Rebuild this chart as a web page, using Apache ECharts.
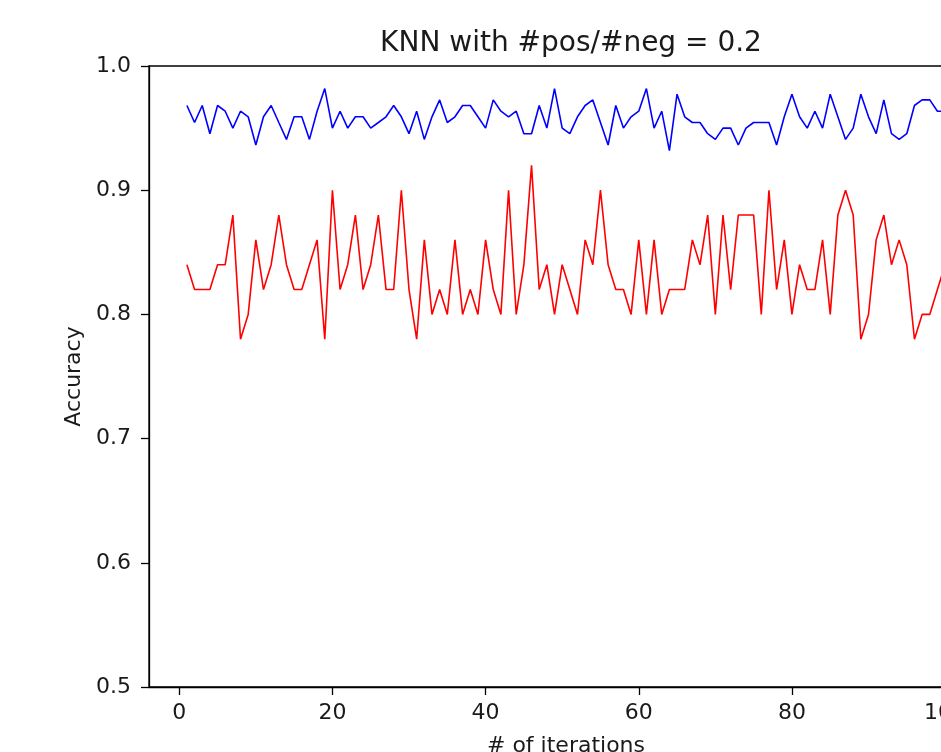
<!DOCTYPE html>
<html>
<head>
<meta charset="utf-8">
<script src="https://cdn.jsdelivr.net/npm/echarts@6/dist/echarts.min.js"></script>
<style>
  html, body { margin: 0; padding: 0; background: #fff; overflow: hidden; }
  #chart { width: 941px; height: 752px; }
</style>
</head>
<body>
<div id="chart"></div>
<script>
// Accuracy per iteration (iterations 1..100)
const blueAccuracy = [
  0.9682, 0.9545, 0.9682, 0.9455, 0.9682, 0.9636, 0.9500, 0.9636, 0.9591, 0.9364,
  0.9591, 0.9682, 0.9545, 0.9409, 0.9591, 0.9591, 0.9409, 0.9636, 0.9818, 0.9500,
  0.9636, 0.9500, 0.9591, 0.9591, 0.9500, 0.9545, 0.9591, 0.9682, 0.9591, 0.9455,
  0.9636, 0.9409, 0.9591, 0.9727, 0.9545, 0.9591, 0.9682, 0.9682, 0.9591, 0.9500,
  0.9727, 0.9636, 0.9591, 0.9636, 0.9455, 0.9455, 0.9682, 0.9500, 0.9818, 0.9500,
  0.9455, 0.9591, 0.9682, 0.9727, 0.9545, 0.9364, 0.9682, 0.9500, 0.9591, 0.9636,
  0.9818, 0.9500, 0.9636, 0.9318, 0.9773, 0.9591, 0.9545, 0.9545, 0.9455, 0.9409,
  0.9500, 0.9500, 0.9364, 0.9500, 0.9545, 0.9545, 0.9545, 0.9364, 0.9591, 0.9773,
  0.9591, 0.9500, 0.9636, 0.9500, 0.9773, 0.9591, 0.9409, 0.9500, 0.9773, 0.9591,
  0.9455, 0.9727, 0.9455, 0.9409, 0.9455, 0.9682, 0.9727, 0.9727, 0.9636, 0.9636
];
const redAccuracy = [
  0.84, 0.82, 0.82, 0.82, 0.84, 0.84, 0.88, 0.78, 0.80, 0.86,
  0.82, 0.84, 0.88, 0.84, 0.82, 0.82, 0.84, 0.86, 0.78, 0.90,
  0.82, 0.84, 0.88, 0.82, 0.84, 0.88, 0.82, 0.82, 0.90, 0.82,
  0.78, 0.86, 0.80, 0.82, 0.80, 0.86, 0.80, 0.82, 0.80, 0.86,
  0.82, 0.80, 0.90, 0.80, 0.84, 0.92, 0.82, 0.84, 0.80, 0.84,
  0.82, 0.80, 0.86, 0.84, 0.90, 0.84, 0.82, 0.82, 0.80, 0.86,
  0.80, 0.86, 0.80, 0.82, 0.82, 0.82, 0.86, 0.84, 0.88, 0.80,
  0.88, 0.82, 0.88, 0.88, 0.88, 0.80, 0.90, 0.82, 0.86, 0.80,
  0.84, 0.82, 0.82, 0.86, 0.80, 0.88, 0.90, 0.88, 0.78, 0.80,
  0.86, 0.88, 0.84, 0.86, 0.84, 0.78, 0.80, 0.80, 0.82, 0.84
];
const xTicks = [0, 20, 40, 60, 80, 100];
const yTicks = [0.5, 0.6, 0.7, 0.8, 0.9, 1.0];

const FONT = 'DejaVu Sans';
const INK = '#1a1a1a';

const toPairs = arr => arr.map((v, i) => [i + 1, v]);

const chart = echarts.init(document.getElementById('chart'), null, { renderer: 'canvas' });
chart.setOption({
  animation: false,
  backgroundColor: '#fff',
  title: {
    text: 'KNN with #pos/#neg = 0.2',
    left: 566,
    top: 25,
    textAlign: 'center',
    textStyle: { fontFamily: FONT, fontSize: 28, fontWeight: 'normal', color: INK }
  },
  grid: {
    left: 149, top: 66, right: -42, bottom: 65,
    outerBoundsMode: 'none',
    containLabel: false,
    show: true, borderColor: '#000', borderWidth: 1.3, backgroundColor: 'transparent'
  },
  xAxis: {
    type: 'value',
    min: -3.95, max: 104.95,
    name: '# of iterations',
    nameLocation: 'middle',
    nameGap: 48,
    nameTextStyle: { fontFamily: FONT, fontSize: 22, color: INK, verticalAlign: 'top' },
    axisLine: { show: true, onZero: false, lineStyle: { color: '#000', width: 1.3 } },
    axisTick: { show: true, length: 8, lineStyle: { color: '#000', width: 1.3 }, customValues: xTicks },
    axisLabel: { fontFamily: FONT, fontSize: 22, color: INK, margin: 15, customValues: xTicks },
    splitLine: { show: false }
  },
  yAxis: {
    type: 'value',
    min: 0.5, max: 1.0, interval: 0.1,
    name: 'Accuracy',
    nameLocation: 'middle',
    nameGap: 62,
    nameRotate: 90,
    nameTextStyle: { fontFamily: FONT, fontSize: 22, color: INK },
    axisLine: { show: true, onZero: false, lineStyle: { color: '#000', width: 1.3 } },
    axisTick: { show: true, length: 8, lineStyle: { color: '#000', width: 1.3 }, customValues: yTicks },
    axisLabel: {
      fontFamily: FONT, fontSize: 22, color: INK, margin: 18,
      customValues: yTicks,
      formatter: v => v.toFixed(1)
    },
    splitLine: { show: false }
  },
  series: [
    {
      type: 'line', data: toPairs(blueAccuracy), showSymbol: false, symbol: 'none',
      lineStyle: { color: '#0000ff', width: 1.6 }, itemStyle: { color: '#0000ff' }
    },
    {
      type: 'line', data: toPairs(redAccuracy), showSymbol: false, symbol: 'none',
      lineStyle: { color: '#ff0000', width: 1.6 }, itemStyle: { color: '#ff0000' }
    }
  ]
});
</script>
</body>
</html>
